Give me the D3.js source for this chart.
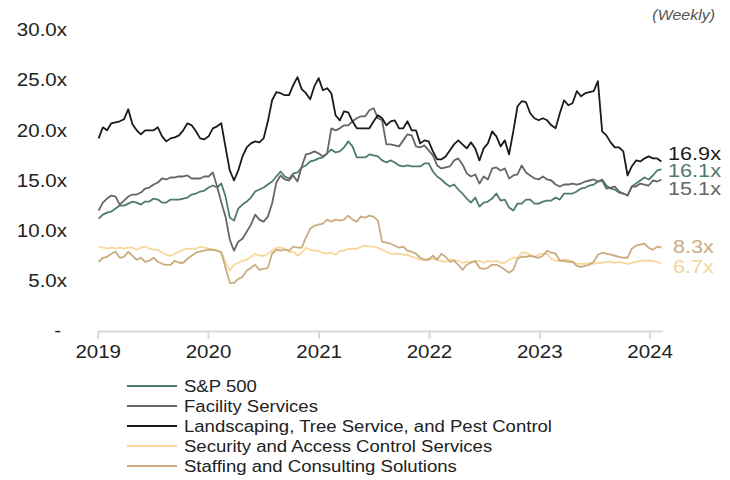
<!DOCTYPE html>
<html>
<head>
<meta charset="utf-8">
<script src="https://cdn.jsdelivr.net/npm/d3@7/dist/d3.min.js"></script>
<style>
  html, body { margin: 0; padding: 0; background: #fff; }
  svg { display: block; font-family: "Liberation Sans", Arial, sans-serif; }
</style>
</head>
<body>
<svg id="chart" width="730" height="480"></svg>
<script>
const startDate = new Date(2019, 0, 4);
const stepDays = 14;
const yTicks = [0, 5, 10, 15, 20, 25, 30];
const xTickYears = [2019, 2020, 2021, 2022, 2023, 2024];
const seriesNames = [
  'S&P 500',
  'Facility Services',
  'Landscaping, Tree Service, and Pest Control',
  'Security and Access Control Services',
  'Staffing and Consulting Solutions'
];

const sp500 = [
  11.2, 11.6, 11.8, 11.9, 12.2, 12.5, 12.5, 12.7, 12.9, 12.8, 12.6, 12.9, 12.9, 13.2, 13.1, 12.8, 12.8, 13.1, 13.1, 13.1, 13.2, 13.3,
  13.6, 13.7, 13.9, 14.0, 14.3, 14.5, 14.3, 14.7, 13.4, 11.3, 11.0, 12.2, 12.6, 12.9, 13.3, 13.9, 14.1, 14.3, 14.6, 14.9, 15.4, 15.9, 15.4,
  15.2, 15.7, 15.8, 16.3, 16.5, 16.9, 17.0, 17.2, 17.3, 17.7, 18.1, 17.8, 17.9, 18.3, 18.9, 18.4, 17.3, 17.3, 17.3, 17.6, 17.5, 17.4,
  17.0, 16.8, 17.0, 16.8, 16.5, 16.4, 16.5, 16.4, 16.4, 16.4, 16.7, 16.7, 15.9, 15.4, 15.1, 14.7, 14.4, 14.6, 14.1, 13.7, 13.2, 12.8, 13.3,
  12.4, 12.8, 12.9, 13.2, 13.7, 13.0, 13.1, 12.3, 12.0, 12.7, 12.7, 13.1, 13.1, 12.7, 12.7, 12.9, 13.0, 13.0, 13.3, 13.1, 13.7, 13.7,
  13.7, 13.9, 14.2, 14.3, 14.5, 14.6, 14.9, 15.1, 14.5, 14.2, 14.1, 13.8, 13.7, 13.5, 14.4, 14.7, 15.0, 15.3, 15.1, 15.5, 16.0, 16.1
];

const facility = [
  12.0, 12.8, 13.2, 13.5, 13.4, 12.6, 13.0, 13.4, 13.6, 13.6, 13.8, 14.2, 14.3, 14.6, 14.8, 15.2, 15.1, 15.3, 15.3, 15.4, 15.4, 15.5,
  15.2, 15.2, 15.2, 15.4, 15.4, 15.8, 14.4, 12.8, 11.4, 9.1, 8.0, 8.9, 9.2, 9.9, 10.6, 11.6, 11.1, 10.9, 11.4, 12.7, 14.8, 15.5, 15.1,
  15.0, 15.5, 14.9, 16.4, 17.6, 17.7, 17.9, 17.7, 17.4, 17.7, 20.2, 20.0, 20.2, 20.5, 20.5, 20.9, 21.2, 21.4, 21.4, 22.0, 22.2, 21.2,
  21.0, 18.6, 18.6, 18.5, 18.4, 19.0, 19.6, 19.5, 18.4, 18.3, 18.5, 18.0, 17.5, 16.5, 16.2, 16.3, 16.4, 17.0, 17.2, 16.6, 15.7, 15.4, 15.6,
  14.7, 15.4, 15.1, 16.2, 16.3, 16.0, 16.2, 15.2, 15.5, 15.6, 16.5, 15.8, 15.5, 15.2, 15.1, 15.4, 15.1, 15.0, 14.6, 14.4, 14.6, 14.6,
  14.7, 14.6, 14.7, 14.9, 15.0, 15.1, 14.9, 15.0, 14.2, 14.3, 14.4, 13.9, 13.7, 13.5, 14.4, 14.4, 14.7, 14.6, 14.5, 15.0, 14.9, 15.1
];

const landscaping = [
  19.2, 20.3, 20.0, 20.7, 20.8, 20.9, 21.1, 22.1, 20.6, 20.0, 19.6, 20.0, 20.0, 20.0, 20.3, 19.4, 18.9, 19.2, 19.3, 19.5, 20.0, 20.7,
  20.5, 19.9, 19.2, 19.1, 19.4, 20.2, 20.4, 20.7, 18.3, 16.0, 15.0, 16.0, 17.4, 18.3, 18.7, 18.9, 18.8, 19.2, 20.9, 23.0, 23.8, 23.7, 23.5,
  23.5, 24.5, 25.3, 24.1, 23.7, 23.1, 24.4, 25.2, 24.0, 24.2, 23.7, 21.5, 21.0, 21.9, 21.8, 20.9, 20.2, 20.2, 20.2, 20.2, 20.9, 21.5,
  21.2, 20.5, 20.9, 21.0, 20.2, 20.2, 20.9, 20.0, 20.0, 18.7, 19.0, 18.9, 17.9, 17.1, 17.1, 17.4, 18.0, 18.6, 19.0, 18.6, 18.2, 18.8, 18.2,
  17.0, 18.2, 18.7, 19.9, 19.4, 18.4, 19.0, 17.6, 19.9, 22.4, 22.9, 22.8, 21.7, 21.2, 21.0, 21.2, 21.0, 20.5, 20.2, 21.7, 23.0, 22.5,
  22.7, 23.9, 23.4, 23.7, 23.8, 23.9, 24.9, 19.9, 19.5, 18.8, 18.3, 18.3, 17.9, 15.5, 16.4, 17.0, 16.9, 17.2, 17.4, 17.2, 17.2, 16.9
];

const security = [
  8.4, 8.3, 8.2, 8.3, 8.2, 8.3, 8.2, 8.3, 8.3, 8.1, 8.3, 8.4, 8.2, 8.1, 8.1, 7.8, 7.6, 7.5, 7.7, 7.9, 8.1, 8.2,
  8.2, 8.2, 8.4, 8.3, 8.2, 8.1, 8.0, 7.9, 6.9, 6.0, 6.6, 6.8, 7.0, 7.1, 7.4, 7.7, 7.5, 7.5, 7.7, 8.0, 8.3, 8.3, 8.2,
  7.9, 7.9, 7.5, 7.8, 8.3, 8.1, 8.0, 8.0, 7.8, 7.7, 7.8, 7.6, 8.0, 8.0, 8.2, 8.2, 8.2, 8.4, 8.5, 8.4, 8.4, 8.3,
  8.1, 7.9, 7.7, 7.7, 7.7, 7.6, 7.6, 7.4, 7.3, 7.1, 7.1, 7.2, 7.2, 7.1, 7.0, 6.9, 7.1, 7.1, 7.0, 6.8, 6.9, 6.9, 6.9,
  7.0, 6.8, 7.0, 6.9, 7.0, 6.8, 6.8, 7.1, 7.3, 7.3, 7.8, 7.8, 7.6, 7.4, 7.6, 7.7, 7.7, 7.2, 7.0, 7.0, 7.1, 7.1,
  6.9, 6.7, 6.7, 6.7, 6.8, 6.7, 6.8, 6.8, 6.9, 6.9, 6.8, 6.9, 6.8, 6.7, 6.8, 6.9, 7.0, 7.0, 7.0, 7.0, 6.9, 6.7
];

const staffing = [
  6.9, 7.3, 7.4, 7.7, 7.9, 7.3, 7.4, 7.9, 7.5, 7.1, 7.3, 6.9, 7.0, 7.3, 6.9, 6.7, 6.6, 6.6, 7.0, 6.8, 6.8, 7.2,
  7.5, 7.8, 7.9, 8.0, 8.1, 8.1, 8.0, 7.8, 6.3, 4.8, 4.8, 5.2, 5.4, 6.0, 6.3, 6.6, 6.1, 6.2, 6.3, 7.7, 8.1, 8.0, 8.1,
  8.0, 8.4, 8.3, 8.3, 9.3, 10.2, 10.5, 10.6, 10.7, 11.1, 10.9, 11.1, 11.0, 11.1, 11.5, 11.1, 10.9, 11.4, 11.3, 11.5, 11.4, 11.0,
  8.9, 8.8, 8.7, 8.5, 8.3, 8.4, 8.0, 7.9, 7.7, 7.3, 7.1, 7.1, 7.5, 7.1, 7.7, 7.4, 6.9, 7.0, 6.6, 6.1, 6.6, 6.8, 7.0,
  6.3, 6.2, 6.3, 6.6, 6.6, 6.4, 6.1, 5.8, 6.1, 7.2, 7.4, 7.4, 7.5, 7.4, 7.3, 7.5, 8.0, 7.8, 7.7, 7.0, 7.0, 6.9,
  6.9, 6.5, 6.4, 6.5, 6.6, 6.9, 7.6, 7.8, 7.7, 7.6, 7.5, 7.4, 7.3, 7.3, 8.2, 8.5, 8.6, 8.7, 8.3, 8.1, 8.4, 8.3
];

const seriesValues = [sp500, facility, landscaping, security, staffing];

// styling
const colors = ['#4e7b6e', '#666666', '#1a1a1a', '#f7d89c', '#c9ad7f'];
const labelColors = ['#4e7b6e', '#666666', '#1a1a1a', '#f4d49a', '#c9ad7f'];
const endLabelX = [668, 668, 668, 673, 673];
const endLabelDy = [0.5, 8.5, -8.5, 2.7, -1.8];
const stretch = 1.14;

const svg = d3.select('#chart');
const plot = { left: 97.7, right: 662, top: 30, bottom: 331 };

const dates = sp500.map((d, i) => d3.timeDay.offset(startDate, i * stepDays));

const scaleX = d3.scaleTime()
  .domain([new Date(2019, 0, 1), new Date(2024, 1, 11)])
  .range([plot.left, plot.right]);

const scaleY = d3.scaleLinear()
  .domain([0, 30])
  .range([plot.bottom, plot.top]);

// y axis: labels only
const axisY = d3.axisLeft(scaleY)
  .tickValues(yTicks)
  .tickSize(0)
  .tickPadding(3)
  .tickFormat(d => d === 0 ? '-' : d3.format('.1f')(d) + 'x');

const groupAxisY = svg.append('g')
  .attr('transform', 'translate(70, 0)')
  .call(axisY);
groupAxisY.select('.domain').remove();
groupAxisY.selectAll('text')
  .attr('font-size', 18)
  .attr('font-family', '"Liberation Sans", Arial, sans-serif')
  .attr('fill', '#222')
  .attr('x', d => (d === 0 ? -9 : -3) / stretch)
  .attr('transform', `scale(${stretch},1)`);

// x axis
const axisX = d3.axisBottom(scaleX)
  .tickValues(xTickYears.map(y => new Date(y, 0, 1)))
  .tickSize(8)
  .tickSizeOuter(0)
  .tickPadding(6)
  .tickFormat(d3.timeFormat('%Y'));

const groupAxisX = svg.append('g')
  .attr('transform', `translate(0, ${plot.bottom})`)
  .call(axisX);
groupAxisX.select('.domain')
  .attr('stroke', '#d9d9d9')
  .attr('stroke-width', 2);
groupAxisX.selectAll('.tick line')
  .attr('stroke', '#d9d9d9')
  .attr('stroke-width', 2);
groupAxisX.selectAll('text')
  .attr('font-size', 18)
  .attr('font-family', '"Liberation Sans", Arial, sans-serif')
  .attr('fill', '#222')
  .attr('transform', `scale(${stretch},1)`);

// lines
const generatorLine = d3.line()
  .x((d, i) => scaleX(dates[i]))
  .y(d => scaleY(d));

svg.append('g')
  .selectAll('path')
  .data(seriesValues)
  .enter()
  .append('path')
  .attr('fill', 'none')
  .attr('stroke', (d, i) => colors[i])
  .attr('stroke-width', 1.8)
  .attr('stroke-linejoin', 'round')
  .attr('d', d => generatorLine(d));

// end labels
svg.append('g')
  .selectAll('g')
  .data(seriesValues)
  .enter()
  .append('g')
  .attr('transform', (d, i) => `translate(${endLabelX[i]}, ${scaleY(d[d.length - 1]) + endLabelDy[i]})`)
  .append('text')
  .attr('transform', `scale(${stretch},1)`)
  .attr('dy', '0.35em')
  .attr('font-size', 19)
  .attr('fill', (d, i) => labelColors[i])
  .text(d => d3.format('.1f')(d[d.length - 1]) + 'x');

// frequency note
svg.append('g')
  .attr('transform', 'translate(715, 15)')
  .append('text')
  .attr('transform', `scale(${stretch},1)`)
  .attr('dy', '0.35em')
  .attr('text-anchor', 'end')
  .attr('font-size', 14)
  .attr('font-style', 'italic')
  .attr('fill', '#555')
  .text('(Weekly)');

// legend
const legend = svg.append('g')
  .selectAll('g')
  .data(seriesNames)
  .enter()
  .append('g')
  .attr('transform', (d, i) => `translate(127, ${386 + i * 20})`);

legend.append('line')
  .attr('x1', 0)
  .attr('x2', 50)
  .attr('stroke', (d, i) => colors[i])
  .attr('stroke-width', 2);

legend.append('text')
  .attr('transform', `scale(1.16,1)`)
  .attr('x', 57 / 1.16)
  .attr('dy', '0.35em')
  .attr('font-size', 16)
  .attr('fill', '#222')
  .text(d => d);
</script>
</body>
</html>
